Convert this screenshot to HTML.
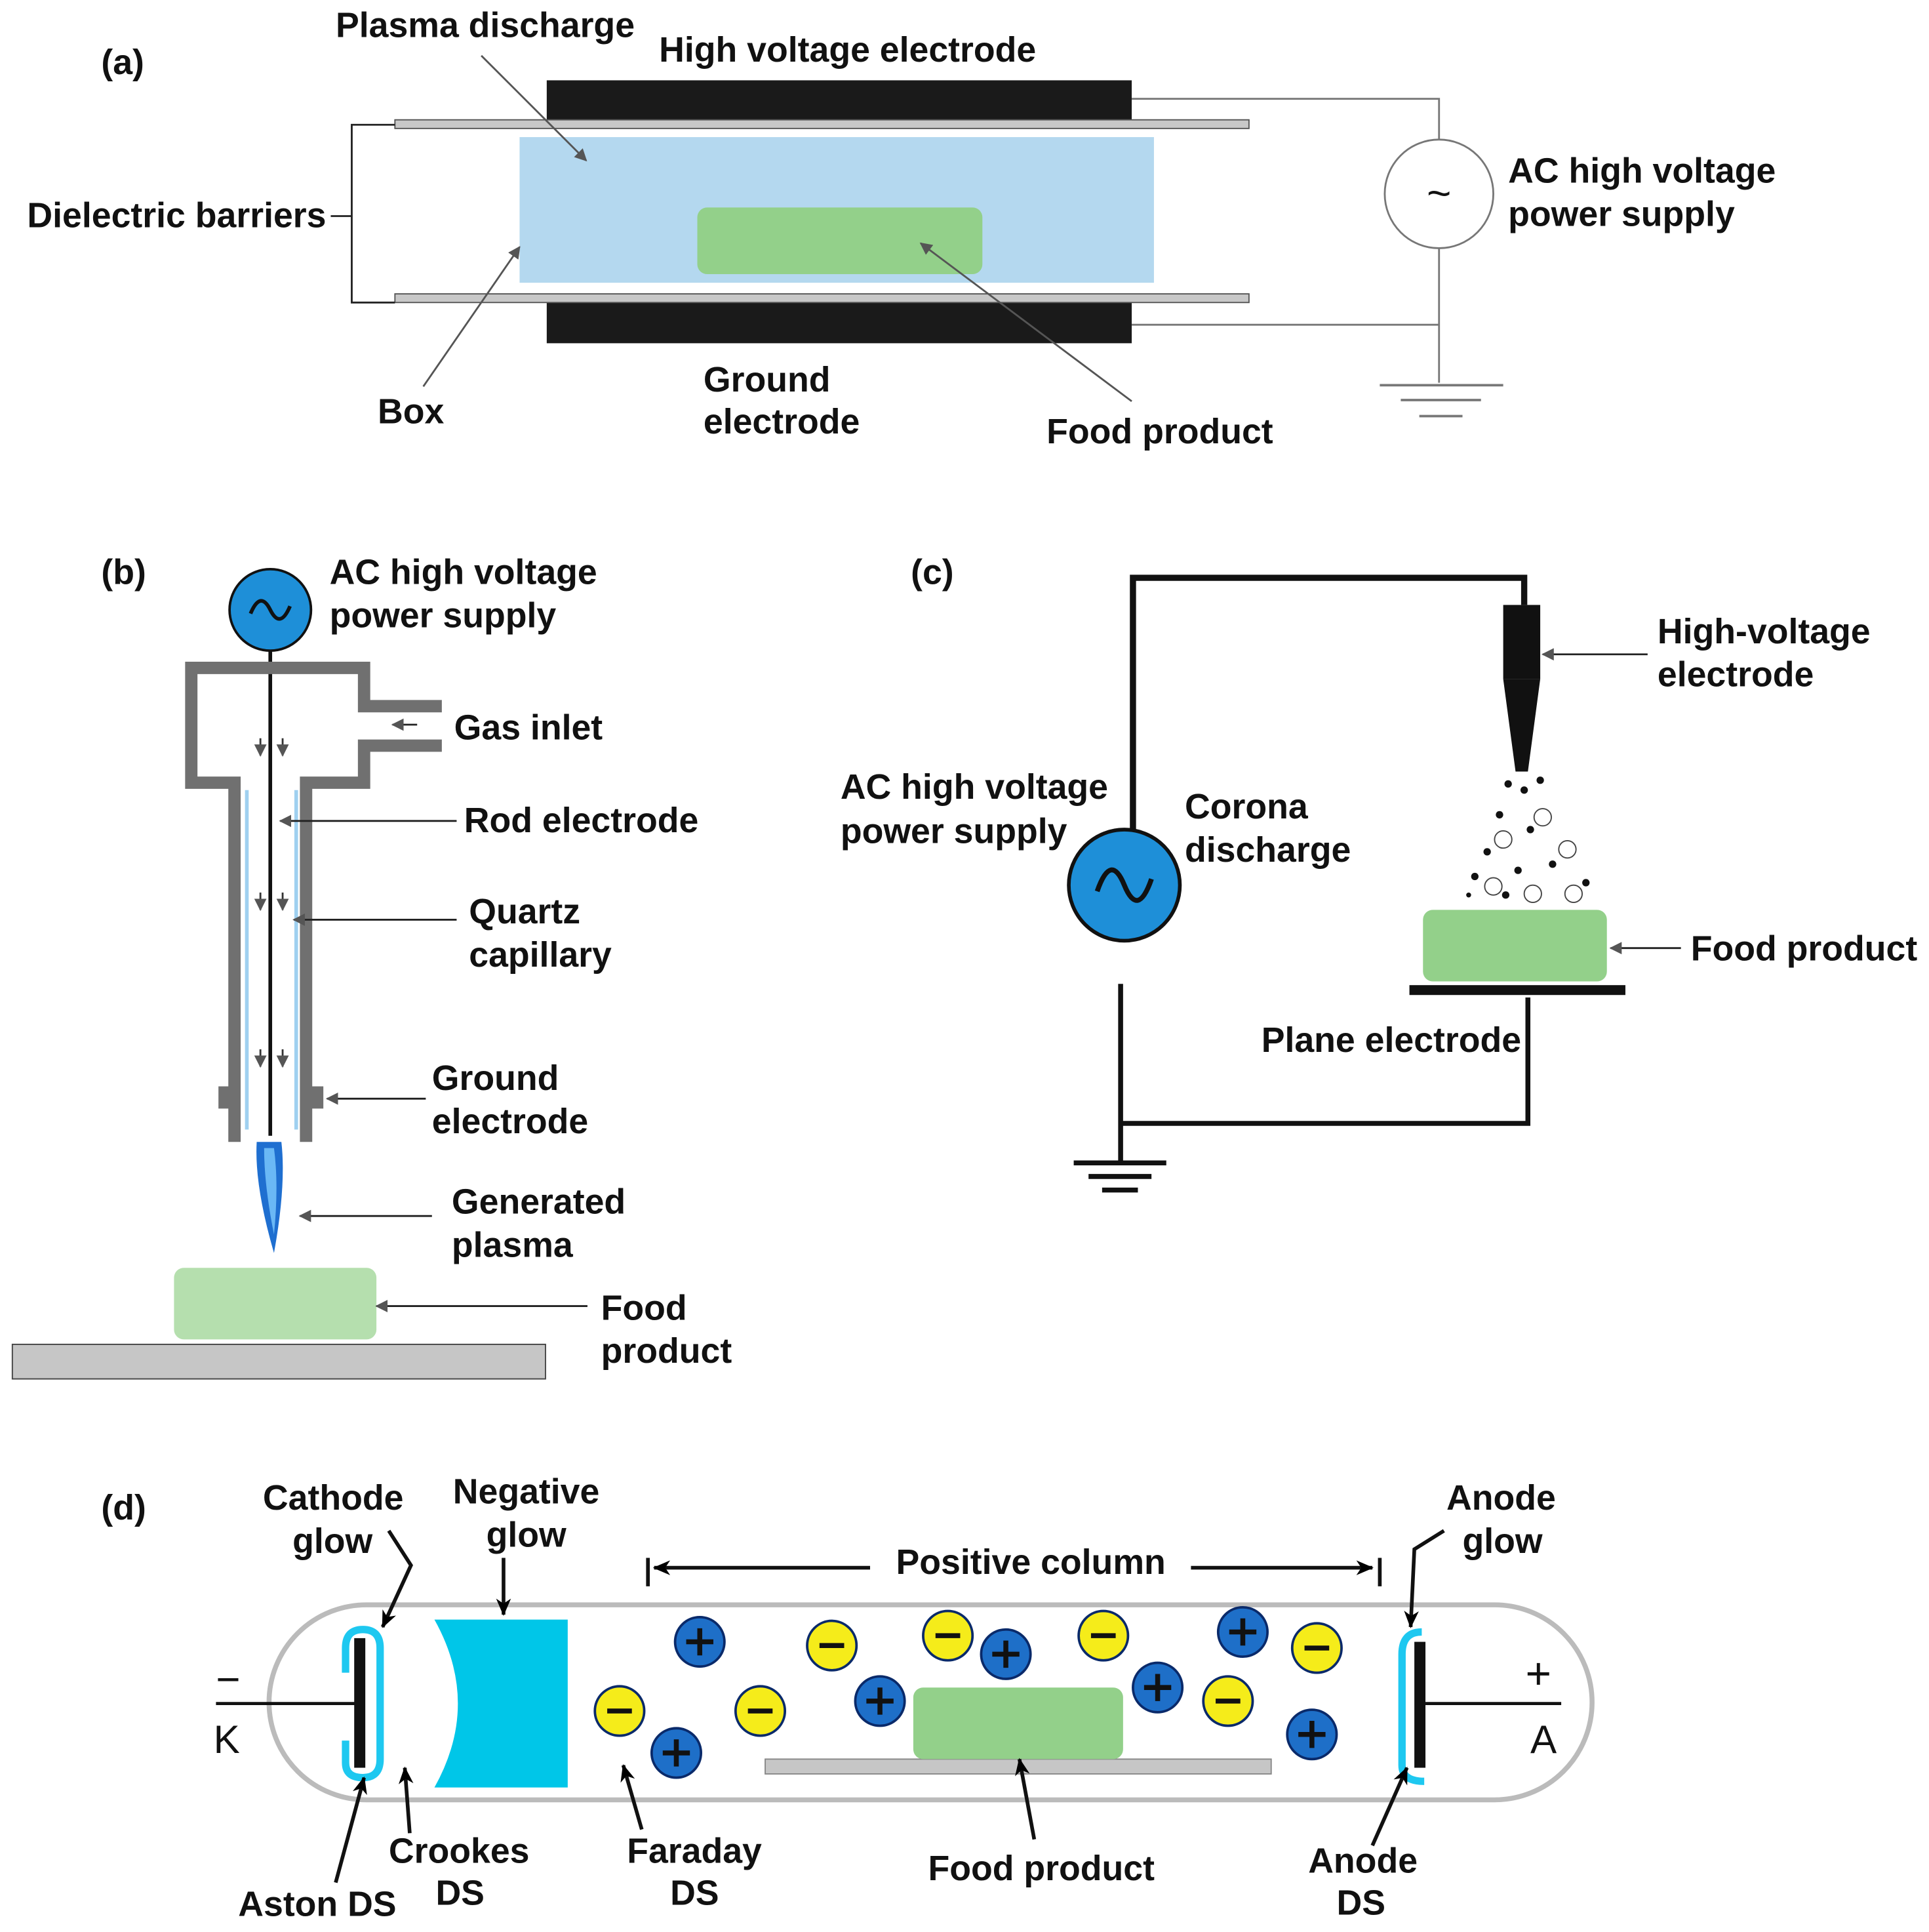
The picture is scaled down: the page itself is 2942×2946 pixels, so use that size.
<!DOCTYPE html>
<html><head><meta charset="utf-8"><style>
html,body{margin:0;padding:0;background:#fff}
svg{display:block}
text{font-family:"Liberation Sans",sans-serif;font-weight:bold;font-size:28.5px;fill:#111}
</style></head><body>
<svg width="2942" height="2946" viewBox="0 0 1563 1565" xmlns="http://www.w3.org/2000/svg">
<defs>
<marker id="ag" markerWidth="10" markerHeight="10" refX="9" refY="5" orient="auto" markerUnits="userSpaceOnUse"><path d="M0,0 L10,5 L0,10 Z" fill="#555"/></marker>
<marker id="ab" markerWidth="14" markerHeight="12" refX="13" refY="6" orient="auto" markerUnits="userSpaceOnUse"><path d="M0,0 L14,6 L0,12 L4,6 Z" fill="#000"/></marker>
</defs>
<rect width="1563" height="1565" fill="#fff"/>

<!-- (a) -->
<text x="82" y="60">(a)</text>
<rect x="421" y="111" width="514" height="118" fill="#b4d8ef"/>
<rect x="443" y="65" width="474" height="32" fill="#1a1a1a"/>
<rect x="443" y="245" width="474" height="33" fill="#1a1a1a"/>
<rect x="320" y="97" width="692" height="7" fill="#c8c8c8" stroke="#555" stroke-width="1"/>
<rect x="320" y="238" width="692" height="7" fill="#c8c8c8" stroke="#555" stroke-width="1"/>
<rect x="565" y="168" width="231" height="54" rx="8" fill="#93d08a"/>
<path d="M917 80 H1166 V113 M1166 201 V310 M917 263 H1166" fill="none" stroke="#777" stroke-width="1.5"/>
<circle cx="1166" cy="157" r="44" fill="#fff" stroke="#777" stroke-width="1.5"/>
<text x="1166" y="168" text-anchor="middle" style="font-size:34px;font-weight:normal">~</text>
<path d="M1118 312 H1218 M1135 324 H1200 M1150 337 H1185" stroke="#777" stroke-width="2"/>
<path d="M320 101 H285 V245 H320 M285 175 H268" fill="none" stroke="#222" stroke-width="1.5"/>
<text x="22" y="184">Dielectric barriers</text>
<text x="272" y="30">Plasma discharge</text>
<text x="534" y="50">High voltage electrode</text>
<text x="1222" y="148">AC high voltage</text>
<text x="1222" y="183">power supply</text>
<text x="306" y="343">Box</text>
<text x="570" y="317">Ground</text>
<text x="570" y="351">electrode</text>
<text x="848" y="359">Food product</text>
<g stroke="#555" stroke-width="1.5" marker-end="url(#ag)">
<line x1="390" y1="45" x2="475" y2="130"/>
<line x1="343" y1="313" x2="421" y2="200"/>
<line x1="917" y1="325" x2="746" y2="197"/>
</g>

<!-- (b) -->
<text x="82" y="473">(b)</text>
<line x1="219" y1="527" x2="219" y2="920" stroke="#111" stroke-width="3"/>
<path d="M200 640 V915 M240 640 V915" stroke="#9fd0f0" stroke-width="3"/>
<path d="M358 572 H295 V541 H155 V634 H190 V925 M358 604 H295 V634 H248 V925" fill="none" stroke="#707070" stroke-width="10"/>
<rect x="177" y="880" width="13" height="18" fill="#707070"/>
<rect x="248" y="880" width="14" height="18" fill="#707070"/>
<g stroke="#333" stroke-width="1.5" marker-end="url(#ag)">
<line x1="211" y1="598" x2="211" y2="612"/><line x1="229" y1="598" x2="229" y2="612"/>
<line x1="211" y1="723" x2="211" y2="737"/><line x1="229" y1="723" x2="229" y2="737"/>
<line x1="211" y1="850" x2="211" y2="864"/><line x1="229" y1="850" x2="229" y2="864"/>
</g>
<circle cx="219" cy="494" r="33" fill="#1e8fd8" stroke="#111" stroke-width="2"/>
<path d="M203 497 Q211 478 219 494 Q227 510 235 491" fill="none" stroke="#111" stroke-width="3"/>
<path d="M208 925 Q206 960 222 1015 Q232 960 228 925 Z" fill="#1f6fd0"/>
<path d="M214 930 Q214 960 222 1000 Q226 960 222 930 Z" fill="#6ab8f5"/>
<rect x="141" y="1027" width="164" height="58" rx="8" fill="#b5dfae"/>
<rect x="10" y="1089" width="432" height="28" fill="#c6c6c6" stroke="#444" stroke-width="1"/>
<text x="267" y="473">AC high voltage</text>
<text x="267" y="508">power supply</text>
<text x="368" y="599">Gas inlet</text>
<text x="376" y="674">Rod electrode</text>
<text x="380" y="748">Quartz</text>
<text x="380" y="783">capillary</text>
<text x="350" y="883">Ground</text>
<text x="350" y="918">electrode</text>
<text x="366" y="983">Generated</text>
<text x="366" y="1018">plasma</text>
<text x="487" y="1069">Food</text>
<text x="487" y="1104">product</text>
<g stroke="#222" stroke-width="1.5" marker-end="url(#ag)">
<line x1="338" y1="587" x2="318" y2="587"/>
<line x1="370" y1="665" x2="227" y2="665"/>
<line x1="370" y1="745" x2="238" y2="745"/>
<line x1="345" y1="890" x2="265" y2="890"/>
<line x1="350" y1="985" x2="243" y2="985"/>
<line x1="476" y1="1058" x2="305" y2="1058"/>
</g>

<!-- (c) -->
<text x="738" y="473">(c)</text>
<path d="M918 672 V468 H1235 V490" fill="none" stroke="#111" stroke-width="5"/>
<rect x="1218" y="490" width="30" height="60" fill="#111"/>
<path d="M1218 550 H1248 L1238 625 H1228 Z" fill="#111"/>
<circle cx="911" cy="717" r="45" fill="#1e8fd8" stroke="#111" stroke-width="3"/>
<path d="M889 722 Q900 690 911 717 Q922 744 933 712" fill="none" stroke="#111" stroke-width="4"/>
<path d="M908 797 V942 M908 910 H1238 V808" fill="none" stroke="#111" stroke-width="4"/>
<path d="M870 942 H945 M882 953 H933 M893 964 H922" stroke="#111" stroke-width="4"/>
<rect x="1153" y="737" width="149" height="58" rx="8" fill="#93d08a"/>
<rect x="1142" y="798" width="175" height="8" fill="#111"/>
<g fill="#111">
<circle cx="1222" cy="635" r="3"/><circle cx="1235" cy="640" r="3"/><circle cx="1248" cy="632" r="3"/>
<circle cx="1215" cy="660" r="3"/><circle cx="1240" cy="672" r="3"/><circle cx="1205" cy="690" r="3"/>
<circle cx="1258" cy="700" r="3"/><circle cx="1195" cy="710" r="3"/><circle cx="1230" cy="705" r="3"/>
<circle cx="1285" cy="715" r="3"/><circle cx="1220" cy="725" r="3"/><circle cx="1190" cy="725" r="2"/>
</g>
<g fill="none" stroke="#444" stroke-width="1">
<circle cx="1250" cy="662" r="7"/><circle cx="1218" cy="680" r="7"/><circle cx="1270" cy="688" r="7"/>
<circle cx="1210" cy="718" r="7"/><circle cx="1242" cy="724" r="7"/><circle cx="1275" cy="724" r="7"/>
</g>
<text x="1343" y="521">High-voltage</text>
<text x="1343" y="556">electrode</text>
<text x="681" y="647">AC high voltage</text>
<text x="681" y="683">power supply</text>
<text x="960" y="663">Corona</text>
<text x="960" y="698">discharge</text>
<text x="1370" y="778">Food product</text>
<text x="1022" y="852">Plane electrode</text>
<g stroke="#222" stroke-width="1.5" marker-end="url(#ag)">
<line x1="1335" y1="530" x2="1250" y2="530"/>
<line x1="1362" y1="768" x2="1305" y2="768"/>
</g>

<!-- (d) -->
<text x="82" y="1231">(d)</text>
<rect x="218" y="1300" width="1072" height="158" rx="79" fill="#fff" stroke="#bbb" stroke-width="4"/>
<line x1="175" y1="1380" x2="290" y2="1380" stroke="#111" stroke-width="2.5"/>
<rect x="287" y="1327" width="9" height="105" fill="#111"/>
<path d="M280 1355 V1335 Q280 1320 294 1320 Q308 1320 308 1335 V1425 Q308 1440 294 1440 Q280 1440 280 1428 V1410" fill="none" stroke="#1ec8f0" stroke-width="6"/>
<path d="M352 1312 H460 V1448 H352 Q390 1380 352 1312 Z" fill="#00c6e8"/>
<line x1="1155" y1="1380" x2="1265" y2="1380" stroke="#111" stroke-width="2.5"/>
<rect x="1146" y="1330" width="9" height="102" fill="#111"/>
<path d="M1152 1322 Q1136 1322 1136 1340 V1430 Q1136 1443 1154 1443" fill="none" stroke="#1ec8f0" stroke-width="6"/>
<rect x="620" y="1425" width="410" height="12" fill="#c6c6c6" stroke="#888" stroke-width="1"/>
<rect x="740" y="1367" width="170" height="58" rx="8" fill="#93d08a"/>
<g stroke="#0a2a6a" stroke-width="2">
<g fill="#1e6fc8">
<circle cx="567" cy="1330" r="20"/><circle cx="815" cy="1340" r="20"/><circle cx="1007" cy="1322" r="20"/>
<circle cx="713" cy="1378" r="20"/><circle cx="938" cy="1367" r="20"/><circle cx="548" cy="1420" r="20"/><circle cx="1063" cy="1405" r="20"/>
</g>
<g fill="#f5ec1a">
<circle cx="674" cy="1333" r="20"/><circle cx="768" cy="1325" r="20"/><circle cx="894" cy="1325" r="20"/>
<circle cx="1067" cy="1335" r="20"/><circle cx="502" cy="1386" r="20"/><circle cx="616" cy="1386" r="20"/><circle cx="995" cy="1378" r="20"/>
</g>
</g>
<g stroke="#111" stroke-width="4">
<path d="M556 1330 H578 M567 1319 V1341 M804 1340 H826 M815 1329 V1351 M996 1322 H1018 M1007 1311 V1333 M702 1378 H724 M713 1367 V1389 M927 1367 H949 M938 1356 V1378 M537 1420 H559 M548 1409 V1431 M1052 1405 H1074 M1063 1394 V1416"/>
<path d="M664 1333 H684 M758 1325 H778 M884 1325 H904 M1057 1335 H1077 M492 1386 H512 M606 1386 H626 M985 1378 H1005"/>
</g>
<text x="175" y="1372" style="font-size:34px;font-weight:normal">−</text>
<text x="173" y="1420" style="font-size:32px;font-weight:normal">K</text>
<text x="1236" y="1368" style="font-size:36px;font-weight:normal">+</text>
<text x="1240" y="1420" style="font-size:32px;font-weight:normal">A</text>
<path d="M525 1262 V1285 M1118 1262 V1285" stroke="#111" stroke-width="3"/>
<g stroke="#111" stroke-width="3" marker-end="url(#ab)" fill="none">
<line x1="705" y1="1270" x2="530" y2="1270"/>
<line x1="965" y1="1270" x2="1112" y2="1270"/>
<path d="M315 1240 L333 1268 L310 1318"/>
<line x1="408" y1="1262" x2="408" y2="1308"/>
<line x1="272" y1="1525" x2="295" y2="1440"/>
<line x1="332" y1="1485" x2="328" y2="1432"/>
<line x1="520" y1="1482" x2="505" y2="1430"/>
<line x1="838" y1="1490" x2="826" y2="1425"/>
<line x1="1112" y1="1495" x2="1140" y2="1432"/>
<path d="M1170 1240 L1146 1255 L1143 1318"/>
</g>
<text x="726" y="1275">Positive column</text>
<text x="213" y="1223">Cathode</text>
<text x="237" y="1258">glow</text>
<text x="367" y="1218">Negative</text>
<text x="394" y="1253">glow</text>
<text x="1172" y="1223">Anode</text>
<text x="1185" y="1258">glow</text>
<text x="193" y="1552">Aston DS</text>
<text x="315" y="1509">Crookes</text>
<text x="353" y="1543">DS</text>
<text x="508" y="1509">Faraday</text>
<text x="543" y="1543">DS</text>
<text x="752" y="1523">Food product</text>
<text x="1060" y="1517">Anode</text>
<text x="1083" y="1551">DS</text>
</svg>
</body></html>
